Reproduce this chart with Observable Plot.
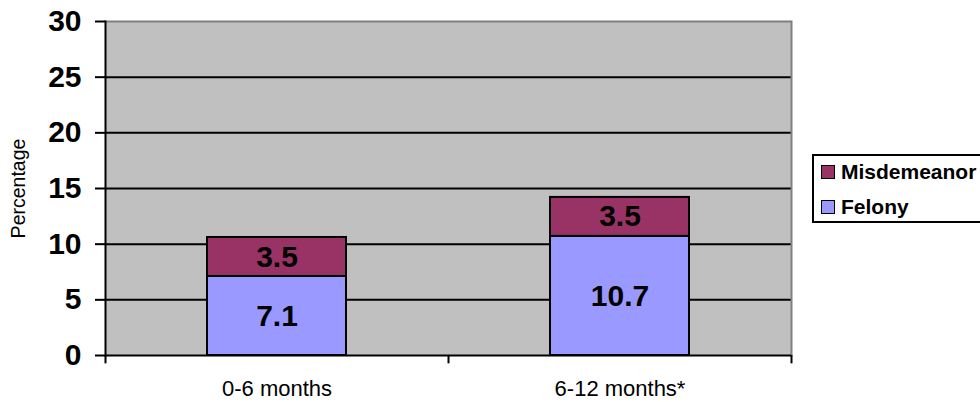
<!DOCTYPE html>
<html><head>
<meta charset="utf-8">
<script src="https://cdn.jsdelivr.net/npm/d3@7"></script>
<script src="https://cdn.jsdelivr.net/npm/@observablehq/plot@0.6"></script>
<style>
body{margin:0;background:#fff;font-family:"Liberation Sans",Arial,sans-serif;overflow:hidden}
#wrap{position:relative;width:980px;height:402px}
#legend{position:absolute;left:812px;top:154px;width:190px;height:65px;border:2px solid #000;background:#fff;font-weight:bold;font-size:21px}
.item{position:absolute;left:7px;display:flex;align-items:center}
.sw{width:12px;height:12px;border:1.5px solid #000;margin-right:6px}
</style>
</head><body><div id="wrap"><div id="chart"></div><div id="legend"></div></div>
<script>
const categories = ["0-6 months", "6-12 months*"];
const seriesNames = ["Felony", "Misdemeanor"];
const felony = [7.1, 10.7];
const misdemeanor = [3.5, 3.5];
const yTicks = [0, 5, 10, 15, 20, 25, 30];
const seriesColors = ["#9999FF", "#993366"];
const yTitle = ["Percentage"];

const data = [];
categories.forEach((c, i) => {
  data.push({cat: c, type: "Felony", value: felony[i]});
  data.push({cat: c, type: "Misdemeanor", value: misdemeanor[i]});
});

const W = 980, H = 402, mL = 105, mR = 189, mT = 21, mB = 47;
const step = (W - mL - mR) / categories.length;

const chart = Plot.plot({
  width: W, height: H,
  marginLeft: mL, marginRight: mR, marginTop: mT, marginBottom: mB,
  style: {fontFamily: '"Liberation Sans", Arial, sans-serif', background: "white", color: "black", overflow: "visible"},
  x: {domain: categories, paddingInner: 0.595, paddingOuter: 0.2975, align: 0.5},
  y: {domain: [0, 30]},
  color: {domain: seriesNames, range: seriesColors},
  marks: [
    Plot.frame({fill: "#C0C0C0", stroke: "none"}),
    Plot.ruleY(yTicks.filter(t => t > 0 && t < 30), {stroke: "black", strokeWidth: 2}),
    Plot.ruleY([30], {stroke: "#808080", strokeWidth: 2}),
    Plot.frame({anchor: "right", stroke: "#808080", strokeWidth: 2}),
    Plot.barY(data, Plot.stackY({x: "cat", y: "value", fill: "type", order: seriesNames, stroke: "black", strokeWidth: 2})),
    Plot.text(data, Plot.stackY({x: "cat", y: "value", z: "type", order: seriesNames, text: d => d.value.toFixed(1), fontSize: 30, fontWeight: "bold", fill: "black"})),
    Plot.frame({anchor: "left", stroke: "black", strokeWidth: 2}),
    Plot.ruleY([0], {stroke: "black", strokeWidth: 2}),
    Plot.axisY(yTicks, {tickSize: 10, tickPadding: 14, fontSize: 30, fontWeight: "bold", strokeWidth: 2, label: null}),
    Plot.ruleX(categories, {x: d => d, dx: -step / 2, y1: 0, y2: -0.75, stroke: "black", strokeWidth: 2}),
    Plot.ruleX(categories.slice(-1), {x: d => d, dx: step / 2, y1: 0, y2: -0.75, stroke: "black", strokeWidth: 2}),
    Plot.axisX({tickSize: 0, tickPadding: 25, fontSize: 22, label: null}),
    Plot.text(yTitle, {frameAnchor: "left", textAnchor: "middle", rotate: -90, dx: -87, fontSize: 19.5, fill: "black"})
  ]
});
document.getElementById("chart").appendChild(chart);

const legend = document.getElementById("legend");
[["Misdemeanor", seriesColors[1], 4], ["Felony", seriesColors[0], 39]].forEach(([name, col, top]) => {
  const it = document.createElement("div");
  it.className = "item";
  it.style.top = top + "px";
  it.innerHTML = `<span class="sw" style="background:${col}"></span><span>${name}</span>`;
  legend.appendChild(it);
});
</script>
</body></html>
